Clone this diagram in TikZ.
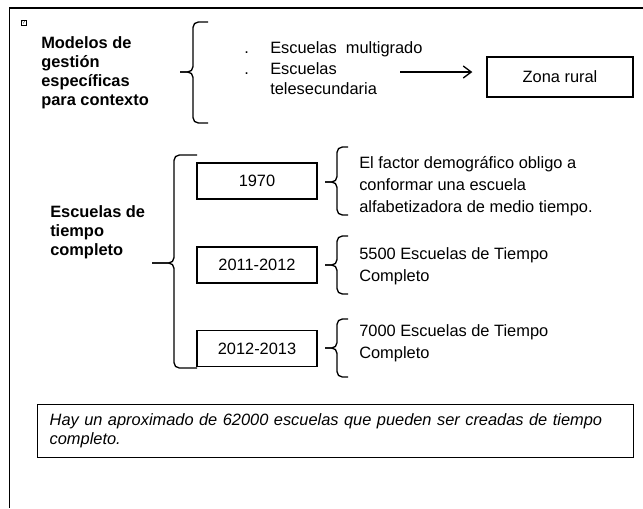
\documentclass[tikz,border=0pt]{standalone}
\usepackage{fontspec}
\setmainfont{Liberation Sans}
\usetikzlibrary{positioning,arrows.meta}

% llave: x, arriba, abajo, y punta, x punta, x ganchos
\newcommand{\llave}[6]{%
  \draw[llave] (#6,#2) -- (#1,#2) -- (#1,#4) -- (#5,#4);
  \draw[llave] (#5,#4) -- (#1,#4) -- (#1,#3) -- (#6,#3);
}

\tikzset{
  llave/.style={line width=1pt, rounded corners=4pt},
  caja/.style={draw, line width=1pt, font=\fontsize{12.3}{14}\selectfont},
  anio/.style={caja, minimum width=90pt, minimum height=27pt},
  titulo/.style={font=\bfseries\fontsize{12.3}{14.2}\selectfont, align=left, inner sep=0pt, anchor=west},
  texto/.style={font=\fontsize{12.3}{16.5}\selectfont, align=left, inner sep=0pt, anchor=west},
}

\begin{document}
\begin{tikzpicture}[x=0.75pt, y=-0.75pt]
	\useasboundingbox (0,0) rectangle (643,508);
	\draw[line width=1.5pt] (643,8) -- (9,8);
	\draw[line width=0.75pt] (9,8) -- (9,508);
	\node[draw, line width=0.3pt, inner sep=0.4pt, minimum size=4pt, font=\fontsize{4}{4}\selectfont] (faltante) at (23.5,22.5) {?};
	
	% modelos de gestion
	\node[titulo] (modelos) at (41,73) {Modelos de\\gestión\\específicas\\para contexto};
	\llave{193}{22}{123}{72}{180}{208}
	\node[texto, anchor=north west, font=\fontsize{12.3}{15.4}\selectfont] (vinetas) at (244,39) {\strut.\\\strut.};
	\node[texto, anchor=north west, font=\fontsize{12.3}{15.4}\selectfont] (escuelas) at (270,39) {\strut Escuelas\ \ multigrado\\Escuelas\\telesecundaria};
	\coordinate (flechaini) at (400,72);
	\node[caja, minimum width=109.5pt, minimum height=30pt] (rural) at (560,77) {Zona rural};
	\draw[line width=1pt, -{Straight Barb[length=6pt, width=9pt, line width=1pt]}, shorten >=10.5pt] (flechaini) -- (flechaini -| rural.west);
	
	% escuelas de tiempo completo
	\node[titulo] (tiempo) at (50,232) {Escuelas de\\tiempo\\completo};
	\llave{174}{155}{368}{263}{152}{197}
	\node[anio] (a1970) at (257,181) {1970};
	\node[anio] (a2011) at (257,265) {2011-2012};
	\node[anio] (a2012) at (257,348.5) {2012-2013};
	
	\llave{337}{147}{215}{182}{325}{348}
	\llave{337}{236}{294}{265}{325}{348}
	\llave{337}{319}{377}{348}{325}{348}
	\node[texto] (factor) at (359,186) {El factor demográfico obligo a\\conformar una escuela\\alfabetizadora de medio tiempo.};
	\node[texto] (cinco) at (359,266) {5500 Escuelas de Tiempo\\Completo};
	\node[texto] (siete) at (359,343) {7000 Escuelas de Tiempo\\Completo};
	
	\node[caja, anchor=north west, minimum width=447pt, minimum height=39.75pt, inner xsep=9pt, align=left, text width=429pt, font=\itshape\fontsize{12.3}{14.25}\selectfont] (aprox) at (37,404) {Hay un aproximado de 62000 escuelas que pueden ser creadas de tiempo\\completo.};
\end{tikzpicture}
\end{document}
